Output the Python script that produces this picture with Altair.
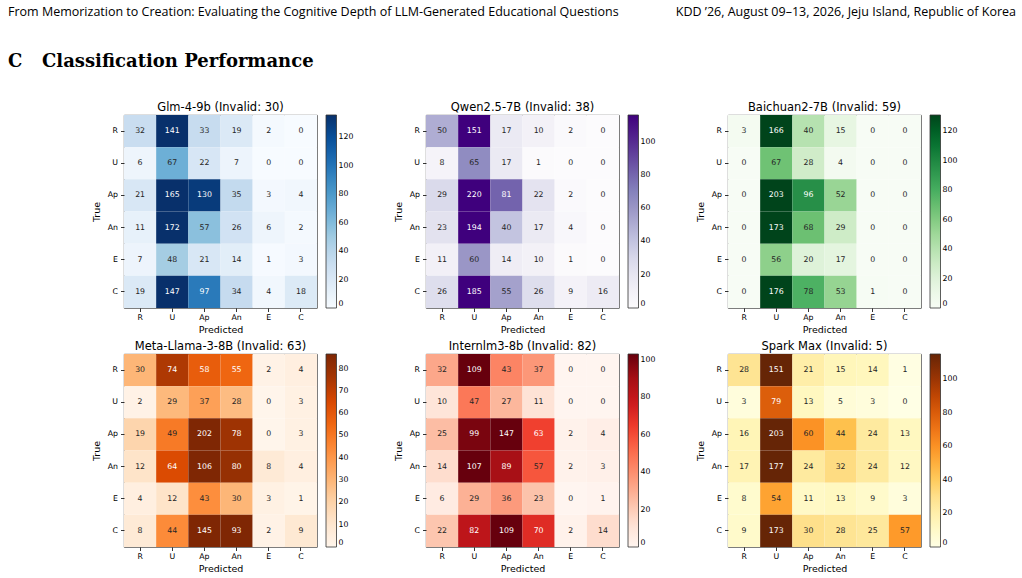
import altair as alt
import numpy as np

# ---------------- data ----------------
labels = ["R", "U", "Ap", "An", "E", "C"]
models = ["Glm-4-9b", "Qwen2.5-7B", "Baichuan2-7B", "Meta-Llama-3-8B", "Internlm3-8b", "Spark Max"]
invalid = [30, 38, 59, 63, 82, 5]

glm = [[32, 141, 33, 19, 2, 0], [6, 67, 22, 7, 0, 0], [21, 165, 130, 35, 3, 4],
       [11, 172, 57, 26, 6, 2], [7, 48, 21, 14, 1, 3], [19, 147, 97, 34, 4, 18]]
qwen = [[50, 151, 17, 10, 2, 0], [8, 65, 17, 1, 0, 0], [29, 220, 81, 22, 2, 0],
        [23, 194, 40, 17, 4, 0], [11, 60, 14, 10, 1, 0], [26, 185, 55, 26, 9, 16]]
baichuan = [[3, 166, 40, 15, 0, 0], [0, 67, 28, 4, 0, 0], [0, 203, 96, 52, 0, 0],
            [0, 173, 68, 29, 0, 0], [0, 56, 20, 17, 0, 0], [0, 176, 78, 53, 1, 0]]
llama = [[30, 74, 58, 55, 2, 4], [2, 29, 37, 28, 0, 3], [19, 49, 202, 78, 0, 3],
         [12, 64, 106, 80, 8, 4], [4, 12, 43, 30, 3, 1], [8, 44, 145, 93, 2, 9]]
internlm = [[32, 109, 43, 37, 0, 0], [10, 47, 27, 11, 0, 0], [25, 99, 147, 63, 2, 4],
            [14, 107, 89, 57, 2, 3], [6, 29, 36, 23, 0, 1], [22, 82, 109, 70, 2, 14]]
spark = [[28, 151, 21, 15, 14, 1], [3, 79, 13, 5, 3, 0], [16, 203, 60, 44, 24, 13],
         [17, 177, 24, 32, 24, 12], [8, 54, 11, 13, 9, 3], [9, 173, 30, 28, 25, 57]]
matrices = [glm, qwen, baichuan, llama, internlm, spark]

colorbar_ticks = [
    [0, 20, 40, 60, 80, 100, 120],
    [0, 20, 40, 60, 80, 100],
    [0, 20, 40, 60, 80, 100, 120],
    [0, 10, 20, 30, 40, 50, 60, 70, 80],
    [0, 20, 40, 60, 80, 100],
    [0, 20, 40, 60, 80, 100],
]

header_left = "From Memorization to Creation: Evaluating the Cognitive Depth of LLM-Generated Educational Questions"
header_right = "KDD \u201926, August 09\u201313, 2026, Jeju Island, Republic of Korea"
section_num = "C"
section_title = "Classification Performance"

# ---------------- styles ----------------
BLUES = ["#f7fbff", "#deebf7", "#c6dbef", "#9ecae1", "#6baed6", "#4292c6", "#2171b5", "#08519c", "#08306b"]
PURPLES = ["#fcfbfd", "#efedf5", "#dadaeb", "#bcbddc", "#9e9ac8", "#807dba", "#6a51a3", "#54278f", "#3f007d"]
GREENS = ["#f7fcf5", "#e5f5e0", "#c7e9c0", "#a1d99b", "#74c476", "#41ab5d", "#238b45", "#006d2c", "#00441b"]
ORANGES = ["#fff5eb", "#fee6ce", "#fdd0a2", "#fdae6b", "#fd8d3c", "#f16913", "#d94801", "#a63603", "#7f2704"]
REDS = ["#fff5f0", "#fee0d2", "#fcbba1", "#fc9272", "#fb6a4a", "#ef3b2c", "#cb181d", "#a50f15", "#67000d"]
YLORBR = ["#ffffe5", "#fff7bc", "#fee391", "#fec44f", "#fe9929", "#ec7014", "#cc4c02", "#993404", "#662506"]
cmaps = [BLUES, PURPLES, GREENS, ORANGES, REDS, YLORBR]

FONT = "DejaVu Sans"
CELL = 193


def panel(k):
    mat = matrices[k]
    rows = []
    for i, t in enumerate(labels):
        for j, p in enumerate(labels):
            rows.append({"true": t, "pred": p, "v": mat[i][j]})
    vmax = float(np.percentile(np.array(mat), 90))
    base = alt.Chart(alt.Data(values=rows)).encode(
        x=alt.X("pred:N", sort=labels, title="Predicted", axis=alt.Axis(labelAngle=0)),
        y=alt.Y("true:N", sort=labels, title="True",
                axis=alt.Axis(titlePadding=6, labelPadding=3)),
    )
    rect = base.mark_rect().encode(
        color=alt.Color(
            "v:Q",
            title=None,
            scale=alt.Scale(domain=[0, vmax], range=cmaps[k], clamp=True, interpolate="rgb"),
            legend=alt.Legend(values=colorbar_ticks[k], labelBaseline="middle", format="d"),
        )
    )
    text = base.mark_text(font=FONT, fontSize=7.8, baseline="middle").encode(
        text="v:Q",
        color=alt.condition(f"datum.v > {0.6 * vmax:.3f}", alt.value("#ffffff"), alt.value("#262626")),
    )
    return alt.layer(rect, text).properties(
        width=CELL, height=CELL,
        title=alt.TitleParams(f"{models[k]} (Invalid: {invalid[k]})"),
    )


one = alt.Data(values=[{"a": 1}])
HFONT = "Open Sans"
hdr_l = alt.Chart(one).mark_text(text=header_left, font=HFONT, fontSize=12.5, align="left",
                                 baseline="middle", color="#000").encode(x=alt.value(-116), y=alt.value(3))
hdr_r = alt.Chart(one).mark_text(text=header_right, font=HFONT, fontSize=12.5, align="right",
                                 baseline="middle", color="#000").encode(x=alt.value(892), y=alt.value(3))
sec_c = alt.Chart(one).mark_text(text=section_num, font="DejaVu Serif", fontSize=18, fontWeight="bold",
                                 align="left", baseline="middle", color="#000").encode(x=alt.value(-116), y=alt.value(53))
sec_t = alt.Chart(one).mark_text(text=section_title, font="DejaVu Serif", fontSize=18, fontWeight="bold",
                                 align="left", baseline="middle", color="#000").encode(x=alt.value(-82), y=alt.value(53))
header = alt.layer(hdr_l, hdr_r, sec_c, sec_t).properties(
    width=CELL, height=60, view=alt.ViewBackground(stroke="transparent"))

grid = alt.concat(*[panel(k) for k in range(6)], columns=3,
                  spacing=alt.RowColnumber(row=46, column=109), bounds="flush").resolve_scale(color="independent")

chart = alt.vconcat(header, grid, spacing=46, bounds="flush").resolve_scale(
    color="independent"
).properties(
    padding={"left": 7, "top": 5, "right": 5, "bottom": 5},
    background="white",
).configure(font=FONT).configure_view(
    stroke="#333333", strokeWidth=0.8
).configure_axis(
    labelFont=FONT, titleFont=FONT, labelFontSize=7.8, titleFontSize=9.5,
    titleFontWeight="normal", labelColor="#000", titleColor="#000",
    tickSize=3.5, tickWidth=0.8, tickColor="#000", domain=False, grid=False,
    labelPadding=2, titlePadding=3,
).configure_title(
    font=FONT, fontSize=11.5, fontWeight="normal", color="#000", offset=2,
).configure_legend(
    gradientLength=CELL, gradientThickness=10.5, offset=9, padding=0,
    labelFont=FONT, labelFontSize=7.8, labelColor="#000", labelOffset=6,
    gradientStrokeColor="#333333", gradientStrokeWidth=0.8, labelOverlap=False,
)

chart.save("out.html", embed_options={"renderer": "svg", "actions": False})
